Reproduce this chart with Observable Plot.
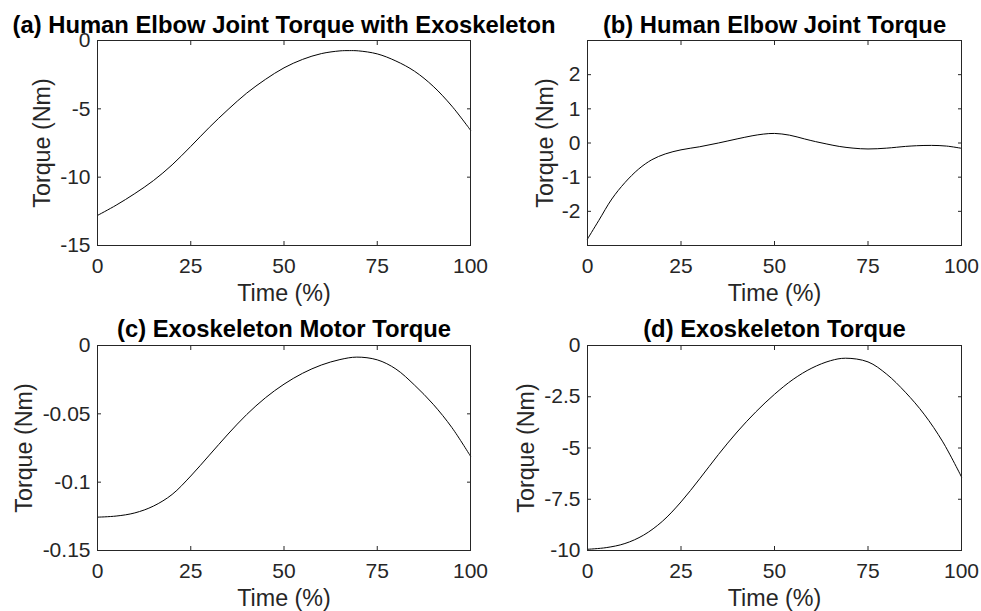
<!DOCTYPE html>
<html><head><meta charset="utf-8">
<script src="https://cdn.jsdelivr.net/npm/d3@7"></script>
<script src="https://cdn.jsdelivr.net/npm/@observablehq/plot@0.6"></script>
<style>
body{margin:0;background:#fff;}
#root{position:relative;width:981px;height:611px;overflow:hidden;background:#fff;font-family:"Liberation Sans",Arial,sans-serif;}
.panel{position:absolute;}
</style></head><body><div id="root"></div>
<script>
// ---- data ----
const xTicks = [0, 25, 50, 75, 100];

const titleA = "(a) Human Elbow Joint Torque with Exoskeleton";
const timeA = [0,5,10,15,20,25,30,35,40,45,50,55,60,65,67.5,70,75,80,85,90,95,100];
const torqueA = [-12.8,-12.05,-11.2,-10.25,-9.1,-7.75,-6.35,-5.05,-3.85,-2.85,-2.0,-1.38,-0.96,-0.76,-0.74,-0.76,-0.98,-1.5,-2.25,-3.35,-4.8,-6.56];
const yTicksA = [-15, -10, -5, 0];

const titleB = "(b) Human Elbow Joint Torque";
const timeB = [0,3,6.5,10,13.7,17.2,20.8,25,30,35,40,44,47,50,54,58,61,64,67.3,71,75,80,85,88,92,96,100];
const torqueB = [-2.81,-2.27,-1.64,-1.16,-0.76,-0.49,-0.32,-0.20,-0.11,0.0,0.12,0.21,0.26,0.28,0.23,0.12,0.04,-0.03,-0.10,-0.15,-0.175,-0.15,-0.10,-0.08,-0.07,-0.09,-0.155];
const yTicksB = [-2, -1, 0, 1, 2];

const titleC = "(c) Exoskeleton Motor Torque";
const timeC = [0,5,10,15,20,25,30,35,40,45,50,55,60,65,69.5,75,80,85,90,95,100];
const torqueC = [-0.1256,-0.1248,-0.1225,-0.1175,-0.109,-0.0955,-0.0802,-0.0648,-0.0505,-0.0383,-0.0283,-0.0203,-0.0143,-0.0103,-0.0085,-0.0105,-0.0172,-0.029,-0.043,-0.060,-0.081];
const yTicksC = [-0.15, -0.1, -0.05, 0];

const titleD = "(d) Exoskeleton Torque";
const timeD = [0,5,10,15,20,25,30,35,40,45,50,55,60,65,69,75,80,85,90,95,100];
const torqueD = [-9.94,-9.86,-9.66,-9.25,-8.58,-7.63,-6.5,-5.32,-4.22,-3.24,-2.38,-1.65,-1.1,-0.74,-0.62,-0.8,-1.4,-2.28,-3.35,-4.7,-6.41];
const yTicksD = [-10, -7.5, -5, -2.5, 0];

const xLabel = "Time (%)";
const yLabel = "Torque (Nm)";

// ---- drawing ----
const ink = "#262626";
const FONT = '"Liberation Sans", Arial, sans-serif';
const root = document.getElementById("root");

function panel({t, v, yDomain, yTicks, title, left, top, width, height, mt, mb, ml, mr, ylabelDx, titleDy}) {
  const data = t.map((x, i) => ({t: x, v: v[i]}));
  const fmt = d => String(d);
  const p = Plot.plot({
    width, height,
    marginLeft: ml, marginRight: mr, marginTop: mt, marginBottom: mb,
    style: {fontFamily: FONT, overflow: "visible", background: "transparent", color: ink},
    x: {domain: [0, 100], label: null},
    y: {domain: yDomain, label: null},
    marks: [
      Plot.line(data, {x: "t", y: "v", stroke: "black", strokeWidth: 1, curve: "catmull-rom"}),
      Plot.frame({stroke: ink, strokeWidth: 1}),
      Plot.axisX(xTicks, {anchor: "bottom", tickSize: 0, tickPadding: 13, fontSize: 21, tickFormat: fmt, label: null, fill: ink}),
      Plot.axisX(xTicks, {anchor: "bottom", tickSize: -4, fill: "none", label: null, stroke: ink}),
      Plot.axisX(xTicks, {anchor: "top", tickSize: -4, fill: "none", label: null, stroke: ink}),
      Plot.axisY(yTicks, {anchor: "left", tickSize: 0, tickPadding: 7, fontSize: 21, tickFormat: fmt, label: null, fill: ink}),
      Plot.axisY(yTicks, {anchor: "left", tickSize: -4, fill: "none", label: null, stroke: ink}),
      Plot.axisY(yTicks, {anchor: "right", tickSize: -4, fill: "none", label: null, stroke: ink}),
      Plot.text([title], {text: d => d, frameAnchor: "top", textAnchor: "middle", lineAnchor: "bottom", dy: titleDy, fontSize: 23.8, fontWeight: "bold", fill: "black"}),
      Plot.text([xLabel], {text: d => d, frameAnchor: "bottom", textAnchor: "middle", lineAnchor: "bottom", dy: 55, fontSize: 23.3, fill: ink}),
      Plot.text([yLabel], {text: d => d, frameAnchor: "left", textAnchor: "middle", lineAnchor: "middle", rotate: -90, dx: ylabelDx, fontSize: 23.3, fill: ink})
    ]
  });
  const div = document.createElement("div");
  div.className = "panel";
  div.style.left = left + "px";
  div.style.top = top + "px";
  div.appendChild(p);
  root.appendChild(div);
}

panel({t: timeA, v: torqueA, yDomain: [-15, 0], yTicks: yTicksA, title: titleA,
  left: 0, top: 0, width: 490, height: 305, mt: 40, mb: 60, ml: 97, mr: 20, ylabelDx: -54.6, titleDy: -8});
panel({t: timeB, v: torqueB, yDomain: [-3, 3], yTicks: yTicksB, title: titleB,
  left: 490, top: 0, width: 491, height: 305, mt: 40, mb: 60, ml: 97, mr: 20, ylabelDx: -42.2, titleDy: -8});
panel({t: timeC, v: torqueC, yDomain: [-0.15, 0], yTicks: yTicksC, title: titleC,
  left: 0, top: 305, width: 490, height: 306, mt: 40, mb: 61, ml: 97, mr: 20, ylabelDx: -72.6, titleDy: -8.5});
panel({t: timeD, v: torqueD, yDomain: [-10, 0], yTicks: yTicksD, title: titleD,
  left: 490, top: 305, width: 491, height: 306, mt: 40, mb: 61, ml: 97, mr: 20, ylabelDx: -61.2, titleDy: -8.5});
</script></body></html>
